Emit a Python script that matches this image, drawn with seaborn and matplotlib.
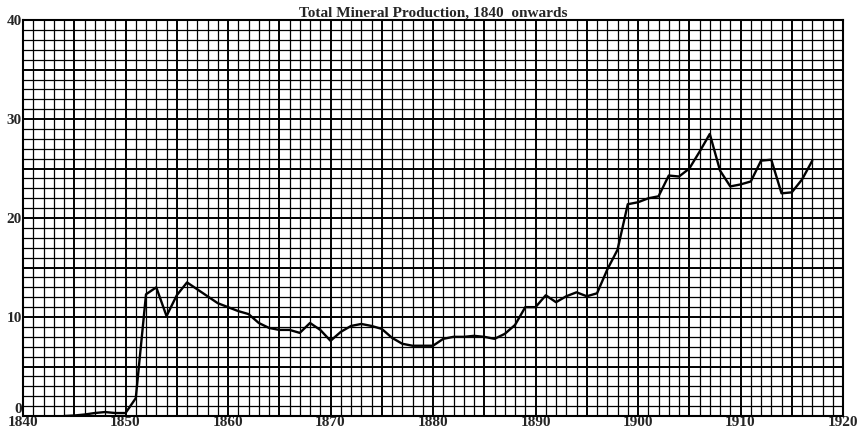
import numpy as np
import seaborn as sns
import matplotlib.pyplot as plt

# yearly values
years = list(range(1844, 1918))
production = [
    0.0, 0.05, 0.15, 0.3, 0.4, 0.3, 0.3, 1.8, 12.3, 13.0,      # 1844-1853
    10.1, 12.2, 13.5, 12.8, 12.1, 11.4, 11.0, 10.6, 10.3, 9.4,  # 1854-1863
    8.9, 8.7, 8.7, 8.4, 9.4, 8.7, 7.6, 8.5, 9.1, 9.3,           # 1864-1873
    9.1, 8.8, 7.9, 7.3, 7.1, 7.1, 7.1, 7.8, 8.0, 8.0,           # 1874-1883
    8.1, 8.0, 7.8, 8.3, 9.2, 11.0, 11.0, 12.2, 11.5, 12.1,      # 1884-1893
    12.5, 12.1, 12.4, 14.8, 16.8, 21.4, 21.6, 22.0, 22.2, 24.3, # 1894-1903
    24.2, 25.0, 26.7, 28.5, 24.8, 23.2, 23.4, 23.7, 25.8, 25.9, # 1904-1913
    22.5, 22.6, 23.9, 25.8,                                     # 1914-1917
]
x_ticks = list(range(1840, 1921, 10))
y_ticks = [0, 10, 20, 30, 40]

sns.set_style("white")
plt.rcParams['font.family'] = ['Liberation Serif', 'DejaVu Serif']
plt.rcParams['font.weight'] = 'bold'

fig = plt.figure(figsize=(8.62, 4.29), dpi=100)
ax = fig.add_axes([0.0267, 0.0303, 0.9513, 0.9227])

# graph-paper grid: fine line every unit, heavier every 5
for xv in range(1841, 1920):
    lw = 1.4 if xv % 5 == 0 else 0.9
    ax.axvline(xv, color='black', linewidth=lw, zorder=1)
for yv in range(1, 40):
    lw = 1.4 if yv % 5 == 0 else 0.9
    ax.axhline(yv, color='black', linewidth=lw, zorder=1)

sns.lineplot(x=years, y=production, color='black', linewidth=1.7, ax=ax, zorder=3)

ax.set_xlim(1840, 1920)
ax.set_ylim(0, 40)
ax.set_xticks(x_ticks)
ax.set_xticklabels([str(t) for t in x_ticks])
ax.set_yticks(y_ticks)
ax.set_yticklabels([str(t) for t in y_ticks])
ax.tick_params(which='both', length=0, labelsize=11)
ax.tick_params(axis='x', pad=0)
ax.tick_params(axis='y', pad=1)
ax.get_yticklabels()[0].set_va('bottom')
ax.grid(False)

for s in ax.spines.values():
    s.set_color('black')
    s.set_linewidth(1.5)

ax.set_xlabel('')
ax.set_ylabel('')
ax.set_title('Total Mineral Production, 1840  onwards', fontsize=11,
             fontweight='bold', pad=2.5)

fig.savefig('out.png', dpi=100)
